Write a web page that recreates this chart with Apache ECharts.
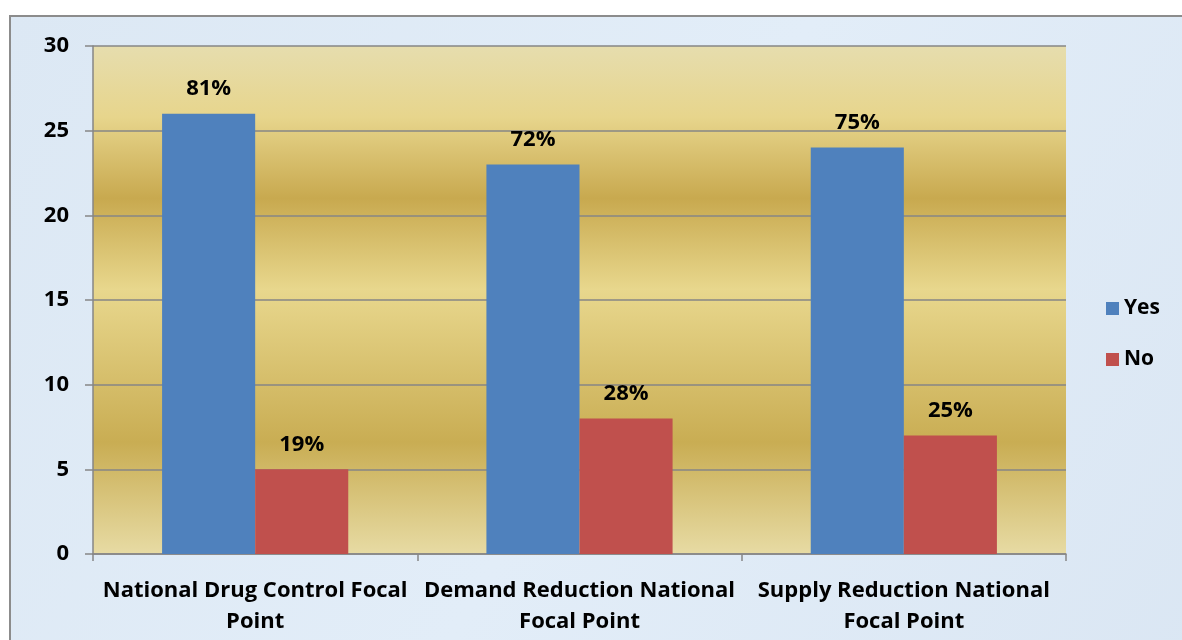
<!DOCTYPE html>
<html>
<head>
<meta charset="utf-8">
<script src="https://cdn.jsdelivr.net/npm/echarts@6/dist/echarts.min.js"></script>
<style>
  html, body { margin: 0; padding: 0; background: #fff; }
  #chart { width: 1182px; height: 640px; }
</style>
</head>
<body>
<div id="chart"></div>
<script>
// Focal point survey: counts of Yes / No answers per focal point type
const categories = [
  'National Drug Control Focal\nPoint',
  'Demand Reduction National\nFocal Point',
  'Supply Reduction National\nFocal Point'
];
const yesValues = [26, 23, 24];
const noValues = [5, 8, 7];
const yesLabels = ['81%', '72%', '75%'];
const noLabels = ['19%', '28%', '25%'];
const yTicks = { min: 0, max: 30, interval: 5 };

const FONT = '"Open Sans", Lato, sans-serif';
const AXIS_GRAY = '#868686';

const chart = echarts.init(document.getElementById('chart'), null, { renderer: 'canvas' });

const goldBands = {
  type: 'linear', x: 0, y: 0, x2: 0, y2: 1,
  colorStops: [
    { offset: 0.00, color: '#e6ddae' },
    { offset: 0.14, color: '#e7d58c' },
    { offset: 0.30, color: '#c8a94f' },
    { offset: 0.48, color: '#e8d78d' },
    { offset: 0.78, color: '#c9ad53' },
    { offset: 1.00, color: '#e7dba4' }
  ]
};

const labelStyle = {
  show: true,
  position: 'top',
  distance: 14,
  fontFamily: FONT,
  fontWeight: 'bold',
  fontSize: 22,
  color: '#000'
};

chart.setOption({
  backgroundColor: '#ffffff',
  animation: false,
  graphic: [{
    type: 'rect',
    z: -100,
    left: 9,
    top: 15,
    shape: { width: 1200, height: 700 },
    style: {
      fill: {
        type: 'linear', x: 0, y: 0, x2: 1, y2: 1,
        colorStops: [
          { offset: 0, color: '#dce8f4' },
          { offset: 0.5, color: '#e2edf8' },
          { offset: 1, color: '#dae6f3' }
        ]
      },
      stroke: '#8c8c8c',
      lineWidth: 2
    }
  }],
  grid: {
    left: 93, right: 116, top: 46, bottom: 86,
    show: true,
    backgroundColor: goldBands,
    borderWidth: 0
  },
  legend: {
    orient: 'vertical',
    left: 1101,
    top: 293,
    itemWidth: 13,
    itemHeight: 13,
    itemGap: 30,
    icon: 'rect',
    textStyle: { fontFamily: FONT, fontWeight: 'bold', fontSize: 21, color: '#000' },
    data: ['Yes', 'No']
  },
  xAxis: {
    type: 'category',
    data: categories,
    axisLine: { show: true, lineStyle: { color: AXIS_GRAY, width: 1.5 } },
    axisTick: { show: true, length: 7, alignWithLabel: false, lineStyle: { color: AXIS_GRAY, width: 1.5 } },
    axisLabel: {
      margin: 21,
      interval: 0,
      fontFamily: FONT,
      fontWeight: 'bold',
      fontSize: 22,
      lineHeight: 31,
      color: '#000'
    },
    splitLine: { show: false }
  },
  yAxis: {
    type: 'value',
    min: yTicks.min,
    max: yTicks.max,
    interval: yTicks.interval,
    axisLine: { show: true, lineStyle: { color: AXIS_GRAY, width: 1.5 } },
    axisTick: { show: true, length: 8, lineStyle: { color: AXIS_GRAY, width: 1.5 } },
    axisLabel: {
      margin: 24,
      fontFamily: FONT,
      fontWeight: 'bold',
      fontSize: 22,
      color: '#000'
    },
    splitLine: { show: true, lineStyle: { color: AXIS_GRAY, width: 1.5 } }
  },
  series: [
    {
      name: 'Yes',
      type: 'bar',
      data: yesValues,
      barGap: '0%',
      barCategoryGap: '42.6%',
      itemStyle: { color: '#4f81bd' },
      label: Object.assign({}, labelStyle, {
        formatter: p => yesLabels[p.dataIndex]
      })
    },
    {
      name: 'No',
      type: 'bar',
      data: noValues,
      barGap: '0%',
      barCategoryGap: '42.6%',
      itemStyle: { color: '#c0504d' },
      label: Object.assign({}, labelStyle, {
        formatter: p => noLabels[p.dataIndex]
      })
    }
  ]
});
</script>
</body>
</html>
